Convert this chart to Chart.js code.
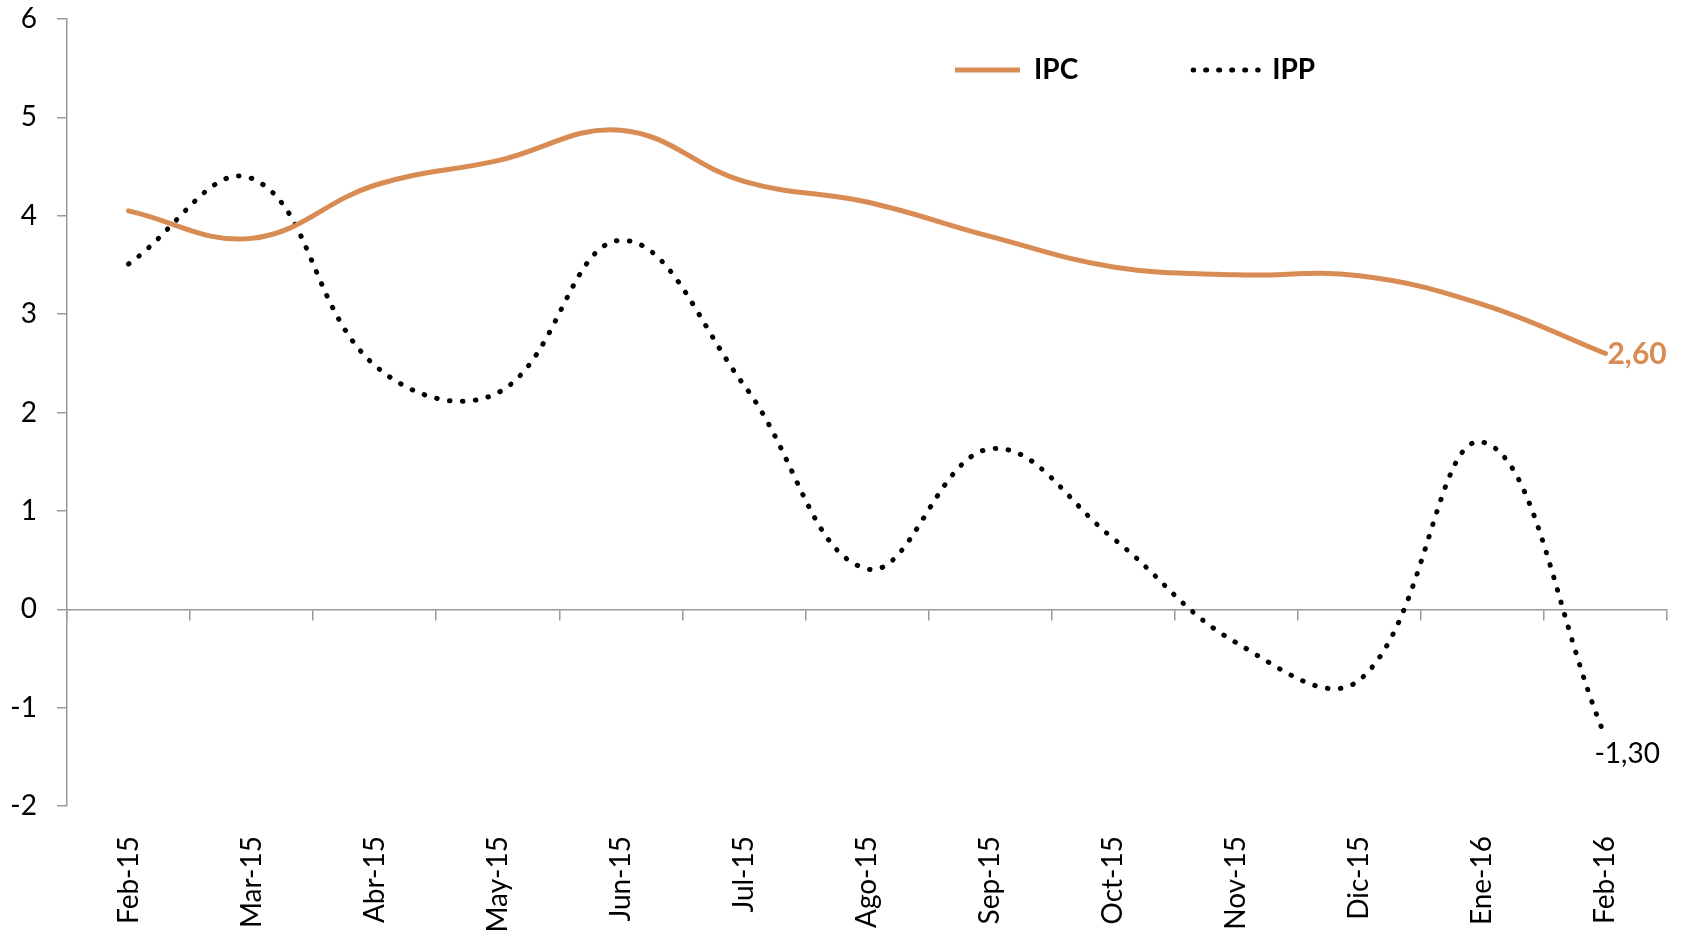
<!DOCTYPE html>
<html>
<head>
<meta charset="utf-8">
<script src="https://cdn.jsdelivr.net/npm/chart.js@4/dist/chart.umd.min.js"></script>
<style>
  html, body { margin: 0; padding: 0; background: #ffffff; }
  #wrap { width: 1681px; height: 934px; position: relative; }
  canvas { display: block; }
</style>
</head>
<body>
<div id="wrap"><canvas id="c" width="1681" height="934"></canvas></div>
<script>
// ---- data ----
const categories = ['Feb-15','Mar-15','Abr-15','May-15','Jun-15','Jul-15','Ago-15','Sep-15','Oct-15','Nov-15','Dic-15','Ene-16','Feb-16'];
const ipcValues = [4.05, 3.77, 4.31, 4.56, 4.87, 4.35, 4.14, 3.79, 3.48, 3.40, 3.39, 3.10, 2.60];
const ippValues = [3.51, 4.38, 2.48, 2.20, 3.75, 2.28, 0.41, 1.63, 0.72, -0.34, -0.72, 1.70, -1.30];
const yTickValues = [-2, -1, 0, 1, 2, 3, 4, 5, 6];
const seriesNames = ['IPC', 'IPP'];
const endLabelTexts = ['2,60', '-1,30'];

const ORANGE = '#D88B52';
const AXIS_GRAY = '#9a9a9a';

// legend: keep Chart.js legend but let it float inside the plot area
const legendPlacer = {
  id: 'legendPlacer',
  afterInit(chart) {
    const lg = chart.legend;
    if (!lg || lg._patched) return;
    const origFit = lg.fit.bind(lg);
    lg.fit = function () { origFit(); this.height = 0; };
    lg._patched = true;
  },
  afterLayout(chart) {
    const lg = chart.legend;
    if (!lg) return;
    const pad = lg.options.labels.padding;
    const half = lg.options.labels.font.size / 2;
    lg.left = 955 - pad;
    lg.right = 1681;
    lg.width = lg.right - lg.left;
    lg.top = 70 - half - pad;
    lg.bottom = 200;
    lg.height = lg.bottom - lg.top;
  }
};

// end-of-series value labels, anchored to the last drawn point of each series
const endLabels = {
  id: 'endLabels',
  afterDatasetsDraw(chart) {
    const ctx = chart.ctx;
    const m0 = chart.getDatasetMeta(0);
    const m1 = chart.getDatasetMeta(1);
    const p0 = m0.data[m0.data.length - 1];
    const p1 = m1.data[m1.data.length - 1];
    ctx.save();
    ctx.textBaseline = 'middle';
    ctx.textAlign = 'left';
    ctx.fillStyle = ORANGE;
    ctx.font = 'bold 30px Lato';
    ctx.fillText(endLabelTexts[0], p0.x + 2, p0.y + 1);
    ctx.fillStyle = '#000000';
    ctx.font = '28px Lato';
    ctx.fillText(endLabelTexts[1], p1.x - 11, p1.y + 17);
    ctx.restore();
  }
};

new Chart(document.getElementById('c'), {
  type: 'line',
  data: {
    labels: categories,
    datasets: [
      {
        label: seriesNames[0],
        data: ipcValues,
        xAxisID: 'x',
        yAxisID: 'y',
        borderColor: ORANGE,
        backgroundColor: ORANGE,
        borderWidth: 5,
        borderCapStyle: 'round',
        pointRadius: 0,
        pointHoverRadius: 0,
        tension: 0.4,
        fill: false
      },
      {
        label: seriesNames[1],
        data: ippValues,
        xAxisID: 'x',
        yAxisID: 'y',
        borderColor: '#000000',
        backgroundColor: 'rgba(0,0,0,0)',
        borderWidth: 5,
        borderCapStyle: 'round',
        borderDash: [0.5, 12.5],
        pointRadius: 0,
        pointHoverRadius: 0,
        tension: 0.4,
        fill: false
      }
    ]
  },
  options: {
    responsive: false,
    animation: false,
    events: [],
    layout: { padding: { top: 19, right: 14, bottom: 0, left: 0 } },
    plugins: {
      tooltip: { enabled: false },
      legend: {
        display: true,
        position: 'top',
        align: 'start',
        labels: {
          usePointStyle: false,
          boxWidth: 65,
          boxHeight: 0,
          padding: 115,
          color: '#000000',
          font: { family: 'Lato', size: 28, weight: 'bold' }
        }
      }
    },
    scales: {
      x: {
        type: 'category',
        position: 'bottom',
        offset: true,
        grid: { display: false, drawTicks: false },
        border: { display: false },
        ticks: {
          autoSkip: false,
          maxRotation: 90,
          minRotation: 90,
          padding: 30,
          color: '#000000',
          font: { family: 'Lato', size: 28 }
        },
        afterFit(s) { s.height = 128; }
      },
      xz: {
        type: 'category',
        axis: 'x',
        position: { y: 0 },
        offset: true,
        grid: { drawOnChartArea: false, drawTicks: true, tickLength: 10, offset: true, color: AXIS_GRAY, lineWidth: 1.5 },
        border: { display: true, color: AXIS_GRAY, width: 1.5 },
        ticks: { display: false }
      },
      y: {
        position: 'left',
        min: yTickValues[0],
        max: yTickValues[yTickValues.length - 1],
        afterBuildTicks(s) { s.ticks = yTickValues.map(v => ({ value: v })); },
        ticks: {
          padding: 20,
          color: '#000000',
          font: { family: 'Lato', size: 28 },
          callback: (v) => String(v)
        },
        grid: { drawOnChartArea: false, drawTicks: true, tickLength: 10, color: AXIS_GRAY, lineWidth: 1.5 },
        border: { display: true, color: AXIS_GRAY, width: 1.5 },
        afterFit(s) { s.width = 67; s.paddingTop = 0; s.paddingBottom = 0; }
      }
    }
  },
  plugins: [legendPlacer, endLabels]
});
</script>
</body>
</html>
